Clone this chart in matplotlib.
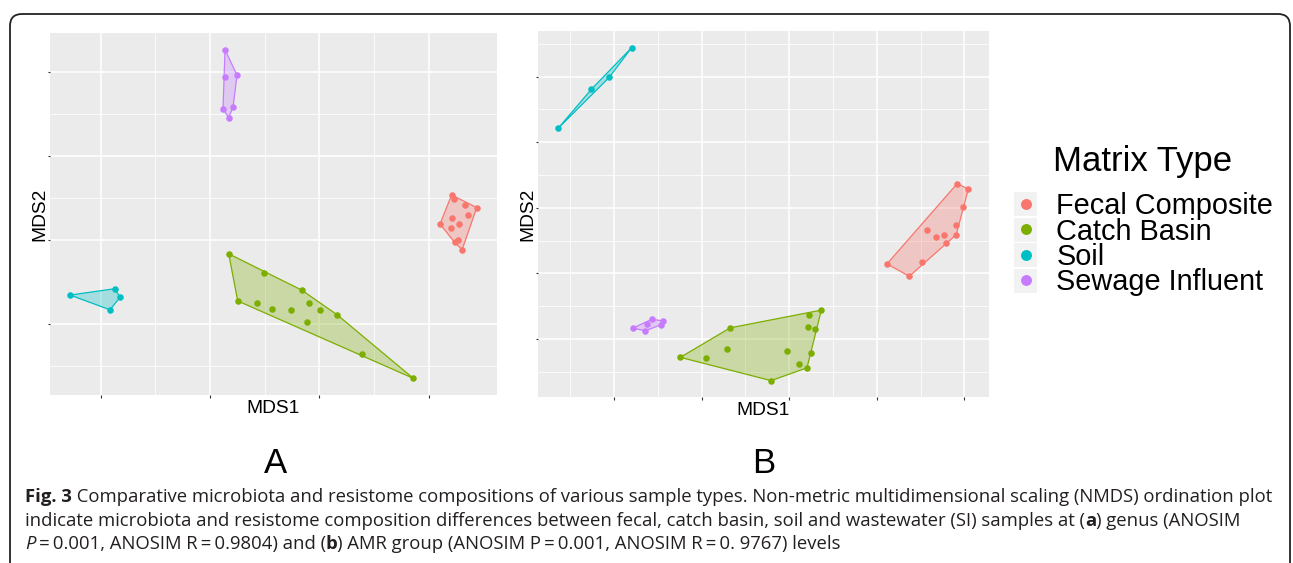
import matplotlib.pyplot as plt
from matplotlib.patches import Polygon, Rectangle, FancyBboxPatch

# groups and ggplot default hue colours
groups = ["Fecal Composite", "Catch Basin", "Soil", "Sewage Influent"]
colors = ["#F8766D", "#7CAE00", "#00BFC4", "#C77CFF"]

# ---- panel A: genus level NMDS ----
fecal_a_x = [0.605, 0.616, 0.666, 0.720, 0.681, 0.608, 0.639, 0.552, 0.604, 0.633, 0.619, 0.653]
fecal_a_y = [0.107, 0.097, 0.082, 0.077, 0.060, 0.053, 0.037, 0.038, 0.029, 0.000, -0.006, -0.023]
catch_a_x = [-0.414, -0.252, -0.081, -0.373, -0.285, -0.216, -0.129, -0.047, 0.005, 0.082, -0.058, 0.194, 0.430]
catch_a_y = [-0.033, -0.079, -0.119, -0.145, -0.150, -0.163, -0.167, -0.151, -0.166, -0.178, -0.194, -0.270, -0.329]
soil_a_x = [-1.139, -0.936, -0.910, -0.957]
soil_a_y = [-0.131, -0.116, -0.136, -0.166]
sewage_a_x = [-0.431, -0.430, -0.376, -0.440, -0.394, -0.414]
sewage_a_y = [0.452, 0.388, 0.392, 0.311, 0.316, 0.291]

# ---- panel B: AMR group level NMDS ----
fecal_b_x = [0.959, 1.022, 0.991, 0.953, 0.788, 0.836, 0.883, 0.953, 0.893, 0.756, 0.558, 0.685]
fecal_b_y = [0.074, 0.057, 0.002, -0.052, -0.069, -0.088, -0.084, -0.082, -0.107, -0.165, -0.171, -0.209]
catch_b_x = [-0.622, -0.477, -0.357, -0.337, -0.104, -0.013, 0.057, 0.101, 0.122, 0.107, 0.148, 0.112, 0.183]
catch_b_y = [-0.456, -0.458, -0.430, -0.366, -0.527, -0.436, -0.476, -0.488, -0.442, -0.362, -0.370, -0.326, -0.312]
soil_b_x = [-1.320, -1.130, -1.027, -0.900]
soil_b_y = [0.242, 0.361, 0.398, 0.488]
sewage_b_x = [-0.894, -0.822, -0.812, -0.784, -0.734, -0.719]
sewage_b_y = [-0.367, -0.375, -0.354, -0.340, -0.357, -0.345]

EQ = "\u2009=\u2009"  # thin spaces around equals signs, as in the journal caption
caption = [
    [("Fig. 3", "bold", "normal"),
     (" Comparative microbiota and resistome compositions of various sample types. "
      "Non-metric multidimensional scaling (NMDS) ordination plot", "normal", "normal")],
    [("indicate microbiota and resistome composition differences between fecal, catch basin, "
      "soil and wastewater (SI) samples at (", "normal", "normal"),
     ("a", "bold", "normal"), (") genus (ANOSIM", "normal", "normal")],
    [("P", "normal", "italic"),
     (EQ + "0.001, ANOSIM R" + EQ + "0.9804) and (", "normal", "normal"),
     ("b", "bold", "normal"),
     (") AMR group (ANOSIM P" + EQ + "0.001, ANOSIM R" + EQ + "0. 9767) levels", "normal", "normal")],
]


def convex_hull(xs, ys):
    pts = sorted(set(zip(xs, ys)))

    def cross(o, a, b):
        return (a[0] - o[0]) * (b[1] - o[1]) - (a[1] - o[1]) * (b[0] - o[0])

    lower, upper = [], []
    for p in pts:
        while len(lower) >= 2 and cross(lower[-2], lower[-1], p) <= 0:
            lower.pop()
        lower.append(p)
    for p in reversed(pts):
        while len(upper) >= 2 and cross(upper[-2], upper[-1], p) <= 0:
            upper.pop()
        upper.append(p)
    return lower[:-1] + upper[:-1]


def nmds_panel(ax, data, xlim, ylim, xt, yt, xminor, yminor):
    ax.set_facecolor("#EBEBEB")
    for s in ax.spines.values():
        s.set_visible(False)
    ax.set_xlim(*xlim)
    ax.set_ylim(*ylim)
    ax.set_xticks(xt)
    ax.set_yticks(yt)
    ax.set_xticks(xminor, minor=True)
    ax.set_yticks(yminor, minor=True)
    ax.set_xticklabels([])
    ax.set_yticklabels([])
    ax.tick_params(which="major", length=1.8, width=0.8, color="#333333")
    ax.tick_params(which="minor", length=0)
    ax.grid(which="major", color="white", lw=1.1)
    ax.grid(which="minor", color="white", lw=0.55)
    ax.set_axisbelow(True)
    for (xs, ys), col in zip(data, colors):
        hull = convex_hull(xs, ys)
        ax.add_patch(Polygon(hull, closed=True, fc=col, alpha=0.3, ec="none", zorder=2))
        ax.add_patch(Polygon(hull, closed=True, fill=False, ec=col, lw=0.9, zorder=2.5))
        ax.scatter(xs, ys, s=22, color=col, linewidths=0, zorder=3)
    ax.set_xlabel("MDS1", fontsize=13.8, family="Liberation Sans")
    ax.set_ylabel("MDS2", fontsize=13.8, family="Liberation Sans")
    ax.xaxis.set_label_coords(0.5, -0.014)
    ax.xaxis.label.set_va("top")
    ax.yaxis.set_label_coords(-0.003, 0.5)


fig = plt.figure(figsize=(12.93, 5.63), dpi=100)

# overlay in pixel units for border, legend and caption
ov = fig.add_axes([0, 0, 1, 1])
ov.set_xlim(0, 1293)
ov.set_ylim(563, 0)
ov.axis("off")

ov.add_patch(FancyBboxPatch((10, 14), 1280, 620, boxstyle="round,pad=0,rounding_size=12",
                            fill=False, ec="#222222", lw=1.3))

ax_a = fig.add_axes([50 / 1293, 1 - 395 / 563, 447 / 1293, 362 / 563])
nmds_panel(ax_a,
           [(fecal_a_x, fecal_a_y), (catch_a_x, catch_a_y), (soil_a_x, soil_a_y), (sewage_a_x, sewage_a_y)],
           (-1.231, 0.8125), (-0.3686, 0.492),
           [-1.0, -0.5, 0.0, 0.5], [-0.2, 0.0, 0.2, 0.4],
           [-0.75, -0.25, 0.25], [-0.3, 0.1, 0.3])

ax_b = fig.add_axes([537.7 / 1293, 1 - 396.7 / 563, 451.3 / 1293, 365.7 / 563])
nmds_panel(ax_b,
           [(fecal_b_x, fecal_b_y), (catch_b_x, catch_b_y), (soil_b_x, soil_b_y), (sewage_b_x, sewage_b_y)],
           (-1.436, 1.140), (-0.576, 0.539),
           [-1.0, -0.5, 0.0, 0.5, 1.0], [-0.4, -0.2, 0.0, 0.2, 0.4],
           [-1.25, -0.75, -0.25, 0.25, 0.75], [-0.5, -0.3, -0.1, 0.1, 0.3, 0.5])

# panel letters
ov.text(275, 473, "A", fontsize=25, family="Liberation Sans", ha="center", va="baseline")
ov.text(764, 473, "B", fontsize=25, family="Liberation Sans", ha="center", va="baseline")

# legend
ov.text(1053, 170.7, "Matrix Type", fontsize=25, family="Liberation Sans", va="baseline")
for i, (name, col) in enumerate(zip(groups, colors)):
    yc = 203.5 + 25.5 * i
    ov.add_patch(Rectangle((1013, yc - 12.5), 24, 25, fc="#F2F2F2", ec="white", lw=0.8))
    ov.scatter([1025.5], [yc], s=62, color=col, linewidths=0, zorder=3)
    ov.text(1056.5, yc + 10.5, name, fontsize=20.8, family="Liberation Sans", va="baseline")

# caption with mixed bold / italic runs
for k, line in enumerate(caption):
    base = 502 + 23.5 * k
    prev = None
    for txt, weight, style in line:
        kw = dict(fontsize=13.3, family=["Open Sans", "DejaVu Sans"], color="#231F20",
                  fontweight=weight, fontstyle=style)
        if prev is None:
            prev = ov.text(25, base, txt, va="baseline", ha="left", **kw)
        else:
            prev = ov.annotate(txt, xy=(1, 0), xycoords=prev, va="bottom", ha="left", **kw)

fig.savefig("out.png", dpi=100)
